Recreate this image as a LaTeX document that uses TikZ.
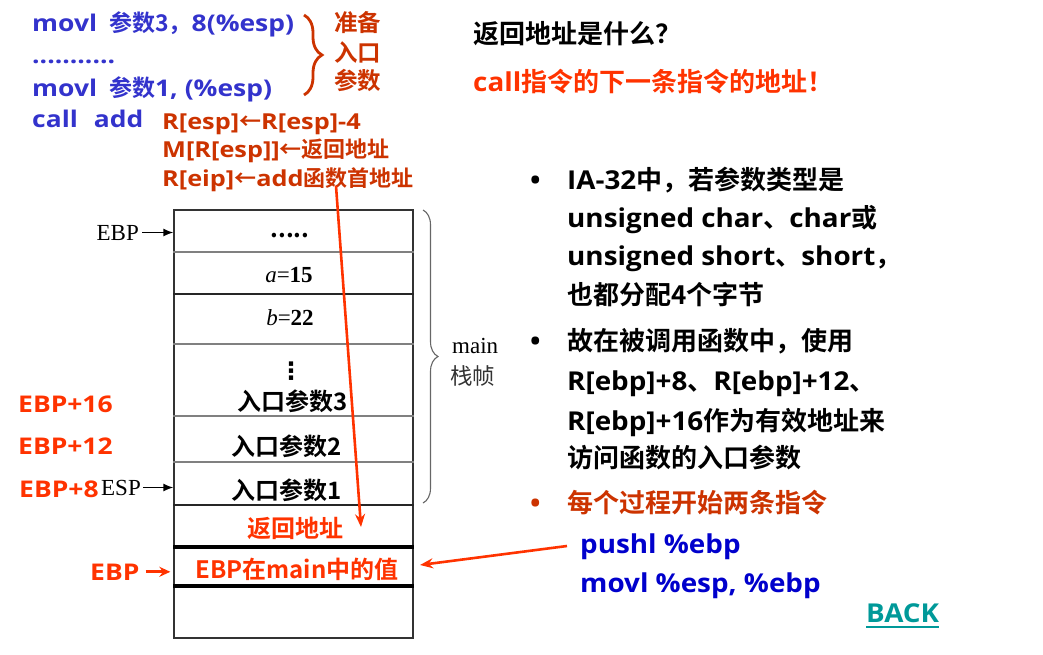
\documentclass[tikz,border=0pt]{standalone}
\usepackage{fontspec}
\newfontfamily\hei{Noto Sans CJK SC}[BoldFont={Noto Sans CJK SC Bold}]
\newfontfamily\lat{Open Sans}[FakeStretch=1.07]
\newfontfamily\latc{Open Sans}[FakeStretch=1.15]
\newfontfamily\tms{Liberation Serif}
\newfontfamily\djv{DejaVu Sans}
\usepackage{tikz}
\usetikzlibrary{arrows.meta,positioning,calc,decorations.pathreplacing}
\definecolor{codeblue}{HTML}{3333CC}
\definecolor{deepred}{HTML}{CC3300}
\definecolor{hotred}{HTML}{FF3300}
\definecolor{insblue}{HTML}{0000CC}
\definecolor{backteal}{HTML}{009999}
\newcommand{\fs}[1]{\fontsize{#1}{#1}\selectfont}
\newcommand{\zh}[1]{{\hei #1}}
\tikzset{
  txt/.style={anchor=base west, inner sep=0pt, font=\latc\bfseries\fs{23}},
  code/.style={txt, text=codeblue},
  effect/.style={txt, text=deepred, font=\latc\bfseries\fs{22}},
  slot/.style={anchor=base, inner sep=0pt, font=\hei\bfseries\fs{24}},
  offs/.style={txt, text=hotred},
  serif/.style={inner sep=0pt, font=\tms\fs{23}},
  note/.style={txt, font=\lat\bfseries\fs{26}},
  ptr/.style={-{Latex[length=10pt,width=8pt]}, line width=1.5pt},
  redptr/.style={-{Stealth[length=13pt,width=10pt]}, line width=2.6pt, draw=hotred},
  sep/.style={draw=black!50, line width=1.2pt},
  darksep/.style={draw=black!85, line width=1.2pt},
  thicksep/.style={draw=black, line width=4pt},
}

\begin{document}
\begin{tikzpicture}[x=1pt, y=-1pt]
  \useasboundingbox (0,0) rectangle (1043,654);
  % calling code
  \node[code] (mov3) at (32,31) {movl\hspace{12pt}\zh{参数3，}8(\%esp)};
  \node[code] (dots) at (32,63) {...........};
  \node[code] (mov1) at (32,96) {movl\hspace{12pt}\zh{参数}1, (\%esp)};
  \node[code] (call) at (32,127) {call\hspace{16pt}add};
  \draw[decorate, decoration={brace, amplitude=18pt}, draw=deepred, line width=2.8pt] (304,15) -- (304,95);
  \node[txt, text=deepred, font=\hei\bfseries\fs{23.5}] (prep1) at (334,31) {准备};
  \node[txt, text=deepred, font=\hei\bfseries\fs{23.5}] (prep2) at (334,61) {入口};
  \node[txt, text=deepred, font=\hei\bfseries\fs{23.5}] (prep3) at (334,89) {参数};
  \node[effect] (eff1) at (162,129) {R[esp]\zh{←}R[esp]-4};
  \node[effect] (eff2) at (162,157) {M[R[esp]]\zh{←返回地址}};
  \node[effect] (eff3) at (162,186) {R[eip]\zh{←}add\zh{函数首地址}};

  % stack frame
  \node[draw=black!80, line width=1.3pt, minimum width=239pt, minimum height=428pt, inner sep=0pt] (stack) at (293.5,424) {};
  \foreach \y in {252,344,416,462}
    \draw[sep] (stack.west |- 0,\y) -- (stack.east |- 0,\y);
  \foreach \y in {294,505}
    \draw[darksep] (stack.west |- 0,\y) -- (stack.east |- 0,\y);
  \foreach \y in {547,586}
    \draw[thicksep] (stack.west |- 0,\y) -- (stack.east |- 0,\y);
  \node[slot] (sdots) at (290,237) {.....};
  \node[serif, anchor=base] (sa) at (289,282) {\textit{a}=\textbf{15}};
  \node[serif, anchor=base] (sb) at (290,325) {\textit{b}=\textbf{22}};
  \node[font=\djv\bfseries\fs{24}, inner sep=0pt] (svd) at (291,371) {⋮};
  \node[slot] (arg3) at (293,410) {入口参数3};
  \node[slot] (arg2) at (287,455) {入口参数2};
  \node[slot] (arg1) at (287,499) {入口参数1};
  \node[slot, text=hotred] (ret) at (295,537) {返回地址};
  \node[slot, text=hotred] (oldebp) at (297,578) {EBP在main中的值};
  \draw[decorate, decoration={brace, amplitude=15pt}, draw=black!60, line width=1.1pt] (423,210) -- (423,503);
  \node[serif, anchor=base west] (mainlbl) at (452,353) {main};
  \node[anchor=base west, inner sep=0pt, font=\hei\fs{22.5}, text=black!80] (frame) at (450,384) {栈帧};

  % pointers
  \node[serif, anchor=base east] (ebptop) at (139,240) {EBP};
  \draw[ptr] ([xshift=3pt]ebptop.east) -- (ebptop.east -| stack.west);
  \node[offs] (off16) at (18,412) {EBP+16};
  \node[offs] (off12) at (18,454) {EBP+12};
  \node[offs] (off8) at (19,497) {EBP+8};
  \node[serif, anchor=base east] (esp) at (141,495) {ESP};
  \draw[ptr] ([xshift=2pt]esp.east) -- (esp.east -| stack.west);
  \node[offs] (ebpnow) at (90,580) {EBP};
  \draw[redptr, line width=3pt, -{Stealth[length=11pt,width=10pt]}] ([xshift=6pt]ebpnow.east) -- ([xshift=-3pt]ebpnow.east -| stack.west);
  \coordinate (callsrc) at (336,186);
  \coordinate (rettip) at (361,527);
  \draw[redptr] (callsrc) -- (rettip);

  % notes
  \node[note] (q) at (473,43) {\zh{返回地址是什么？}};
  \node[note, text=hotred] (ans) at (473,91) {call\zh{指令的下一条指令的地址！}};
  \node[note] (bul1) at (530,189) {•};
  \node[note] (l1a) at (567,189) {IA-32\zh{中，若参数类型是}};
  \node[note] (l1b) at (567,227) {unsigned char\zh{、}char\zh{或}};
  \node[note] (l1c) at (567,265) {unsigned short\zh{、}short\zh{，}};
  \node[note] (l1d) at (567,304) {\zh{也都分配4个字节}};
  \node[note] (bul2) at (530,350) {•};
  \node[note] (l2a) at (567,350) {\zh{故在被调用函数中，使用}};
  \node[note] (l2b) at (567,390) {R[ebp]+8\zh{、}R[ebp]+12\zh{、}};
  \node[note] (l2c) at (567,430) {R[ebp]+16\zh{作为有效地址来}};
  \node[note] (l2d) at (567,467) {\zh{访问函数的入口参数}};
  \node[note, text=deepred] (bul3) at (530,512) {•};
  \node[note, text=deepred] (l3a) at (567,512) {\zh{每个过程开始两条指令}};
  \node[note, text=insblue] (push) at (580,553) {pushl \%ebp};
  \node[note, text=insblue] (movebp) at (580,592) {movl \%esp, \%ebp};
  \coordinate (pushsrc) at (567,546);
  \coordinate (pushtip) at (420,565);
  \draw[redptr] (pushsrc) -- (pushtip);
  \node[note, text=backteal] (back) at (866,622) {BACK};
  \draw[backteal, line width=1.6pt] ([yshift=-5pt]back.base west) -- ([yshift=-5pt]back.base east);
\end{tikzpicture}
\end{document}
